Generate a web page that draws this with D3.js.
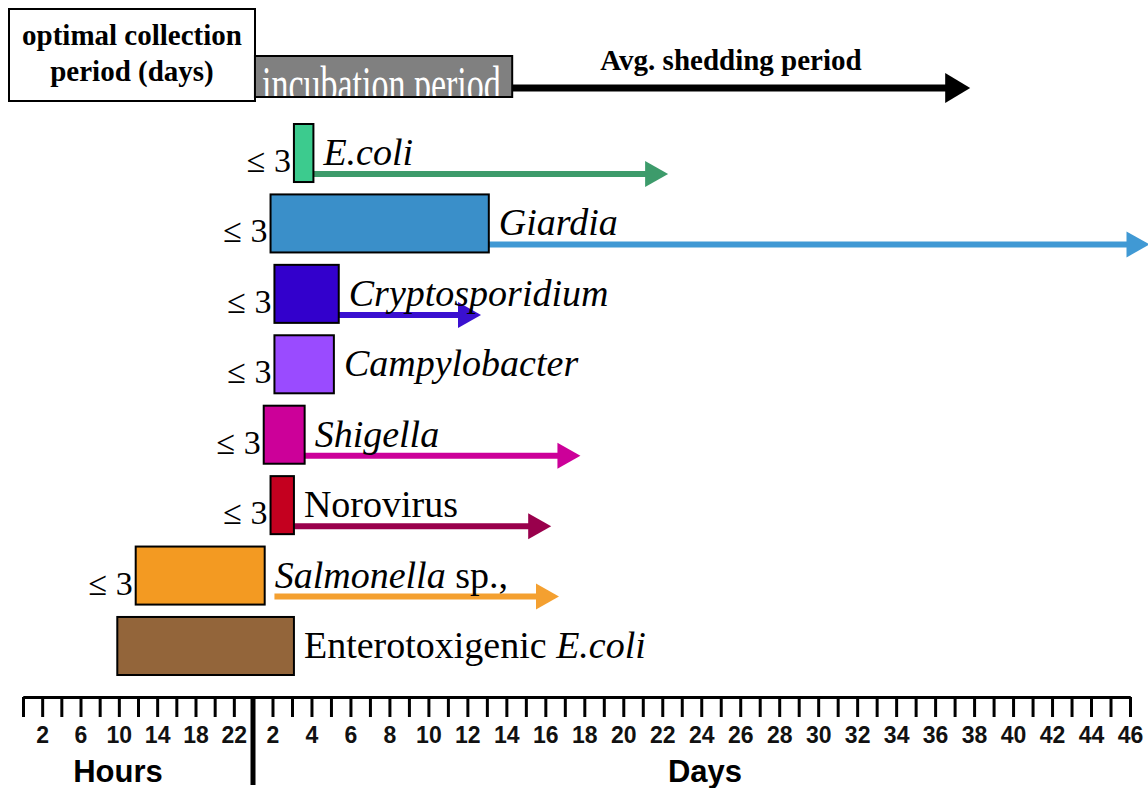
<!DOCTYPE html>
<html>
<head>
<meta charset="utf-8">
<script src="https://cdn.jsdelivr.net/npm/d3@7"></script>
<style>
  body { margin: 0; background: #fff; }
  svg { display: block; }
  .serif { font-family: "Liberation Serif", "Times New Roman", serif; }
  .sans { font-family: "Liberation Sans", Arial, sans-serif; font-weight: bold; }
</style>
</head>
<body>
<svg id="chart" width="1148" height="788"></svg>
<script>
// pathogens, top to bottom
const rows = ['E.coli', 'Giardia', 'Cryptosporidium', 'Campylobacter', 'Shigella', 'Norovirus', 'Salmonella', 'ETEC'];
// label pieces: [text, italic]
const labelParts = [
    [['E.coli', true]],
    [['Giardia', true]],
    [['Cryptosporidium', true]],
    [['Campylobacter', true]],
    [['Shigella', true]],
    [['Norovirus', false]],
    [['Salmonella', true], [' sp.,', false]],
    [['Enterotoxigenic ', false], ['E.coli', true]]
];
// incubation period, in days (hours given as fraction of day 1)
const incStart = [3.1, 1.9, 2.1, 2.1, 1.55, 1.9, 0.49, 0.41];
const incEnd = [4.1, 13.1, 5.4, 5.15, 3.65, 3.1, 1.6, 3.1];
// average shedding period, in days (null = no arrow)
const shedStart = [4.1, 12.1, 5.4, null, 2.4, 1.9, 2.1, null];
const shedEnd = [22.3, 47, 12.7, null, 17.8, 16.3, 16.7, null];
// optimal collection period
const collect = ['\u2264 3', '\u2264 3', '\u2264 3', '\u2264 3', '\u2264 3', '\u2264 3', '\u2264 3', ''];
const barColors = ['#3ccb8e', '#3a8fc9', '#3300cc', '#9a4bff', '#cc0099', '#c4001f', '#f39a22', '#93653a'];
const arrowColors = ['#3d9b6b', '#4099d4', '#3a10d0', null, '#cc0099', '#99004c', '#f4a030', null];

// axis ticks
const hourTicks = [0, 2, 4, 6, 8, 10, 12, 14, 16, 18, 20, 22, 24];
const hourLabels = [2, 6, 10, 14, 18, 22];
const dayLabels = [2, 4, 6, 8, 10, 12, 14, 16, 18, 20, 22, 24, 26, 28, 30, 32, 34, 36, 38, 40, 42, 44, 46];

// key
const keyIncubation = [1.1, 14.3];
const keyShedEnd = 37.8;

const svg = d3.select('#chart');

// hours squeezed into the first segment, then one tick per day
const x = d3.scaleLinear().domain([0, 1, 46]).range([23, 253, 1130]);
const y = d3.scaleBand().domain(rows).range([124, 675]).paddingInner(0.176);

const axisY = 697;

// arrow helper
function arrow(g, x0, x1, yy, color, width, headLen, headH) {
    g.append('line')
        .attr('x1', x0).attr('x2', x1 - headLen + 2)
        .attr('y1', yy).attr('y2', yy)
        .attr('stroke', color)
        .attr('stroke-width', width);
    g.append('path')
        .attr('d', `M${x1 - headLen},${yy - headH / 2}L${x1},${yy}L${x1 - headLen},${yy + headH / 2}Z`)
        .attr('fill', color);
}

// ---- key ----
const key = svg.append('g');
key.append('rect')
    .attr('x', 9).attr('y', 9).attr('width', 246).attr('height', 92)
    .attr('fill', '#fff').attr('stroke', '#000').attr('stroke-width', 2);
key.append('text')
    .attr('class', 'serif')
    .attr('x', 132).attr('y', 45)
    .attr('text-anchor', 'middle')
    .style('font-size', '29px').style('font-weight', 'bold')
    .text('optimal collection');
key.append('text')
    .attr('class', 'serif')
    .attr('x', 132).attr('y', 81)
    .attr('text-anchor', 'middle')
    .style('font-size', '29px').style('font-weight', 'bold')
    .text('period (days)');

const incX0 = x(keyIncubation[0]);
const incX1 = x(keyIncubation[1]);
svg.append('clipPath').attr('id', 'incClip')
    .append('rect')
    .attr('x', incX0).attr('y', 56).attr('width', incX1 - incX0).attr('height', 40);
arrow(key, incX1, x(keyShedEnd), 88, '#000', 7, 25, 30);
key.append('rect')
    .attr('x', incX0).attr('y', 56).attr('width', incX1 - incX0).attr('height', 41)
    .attr('fill', '#808080').attr('stroke', '#000').attr('stroke-width', 2);
key.append('g')
    .attr('clip-path', 'url(#incClip)')
    .append('text')
    .attr('class', 'serif')
    .attr('transform', `translate(${incX0 + 7},101) scale(1,1.5)`)
    .attr('fill', '#fff')
    .style('font-size', '34px')
    .text('incubation period');
key.append('text')
    .attr('class', 'serif')
    .attr('x', 731).attr('y', 70)
    .attr('text-anchor', 'middle')
    .style('font-size', '29px').style('font-weight', 'bold')
    .text('Avg. shedding period');

// ---- rows ----
const data = rows.map((r, i) => ({
    name: r, parts: labelParts[i], start: incStart[i], end: incEnd[i],
    shedStart: shedStart[i], shedEnd: shedEnd[i], collect: collect[i],
    color: barColors[i], arrowColor: arrowColors[i]
}));

const arrows = svg.append('g');
data.filter(d => d.shedEnd != null).forEach(d => {
    const yy = y(d.name) + y.bandwidth() - 8;
    arrow(arrows, x(d.shedStart), x(d.shedEnd), yy, d.arrowColor, 6, 23, 26);
});

svg.append('g').selectAll('rect')
    .data(data.slice().reverse())
    .join('rect')
    .attr('x', d => x(d.start))
    .attr('y', d => y(d.name))
    .attr('width', d => x(d.end) - x(d.start))
    .attr('height', y.bandwidth())
    .attr('fill', d => d.color)
    .attr('stroke', '#000')
    .attr('stroke-width', 2);

// names
const names = svg.append('g').selectAll('text')
    .data(data)
    .join('text')
    .attr('class', 'serif')
    .attr('x', d => x(d.end) + 10)
    .attr('y', d => y(d.name) + y.bandwidth() - 17)
    .style('font-size', '38px');
names.selectAll('tspan')
    .data(d => d.parts)
    .join('tspan')
    .style('font-style', p => p[1] ? 'italic' : 'normal')
    .text(p => p[0]);

// optimal collection
svg.append('g').selectAll('text')
    .data(data.filter(d => d.collect))
    .join('text')
    .attr('class', 'serif')
    .attr('x', d => x(d.start) - 3)
    .attr('y', d => y(d.name) + y.bandwidth() - 10)
    .attr('text-anchor', 'end')
    .style('font-size', '34px')
    .text(d => d.collect);

// ---- axis ----
const hourAxis = d3.axisBottom(x)
    .tickValues(hourTicks.map(h => h / 24))
    .tickSize(20)
    .tickSizeOuter(0)
    .tickPadding(10)
    .tickFormat(v => {
        const h = Math.round(v * 24);
        return hourLabels.includes(h) ? h : '';
    });
const dayAxis = d3.axisBottom(x)
    .tickValues(d3.range(1, 47))
    .tickSize(20)
    .tickSizeOuter(0)
    .tickPadding(10)
    .tickFormat(v => dayLabels.includes(v) ? v : '');

const hg = svg.append('g').attr('transform', `translate(0,${axisY})`).call(hourAxis);
const dg = svg.append('g').attr('transform', `translate(0,${axisY})`).call(dayAxis);
[hg, dg].forEach(g => {
    g.select('.domain').attr('stroke', '#000').attr('stroke-width', 3);
    g.selectAll('.tick line').attr('stroke', '#000').attr('stroke-width', 3);
    g.selectAll('.tick text')
        .attr('class', 'sans')
        .attr('fill', '#111')
        .style('font-size', '23px');
});

// hour/day divider
svg.append('line')
    .attr('x1', x(1)).attr('x2', x(1))
    .attr('y1', axisY).attr('y2', 785)
    .attr('stroke', '#000').attr('stroke-width', 5);

svg.append('text')
    .attr('class', 'sans')
    .attr('x', 118).attr('y', 782)
    .attr('text-anchor', 'middle')
    .style('font-size', '31px')
    .text('Hours');
svg.append('text')
    .attr('class', 'sans')
    .attr('x', 705).attr('y', 782)
    .attr('text-anchor', 'middle')
    .style('font-size', '31px')
    .text('Days');
</script>
</body>
</html>
